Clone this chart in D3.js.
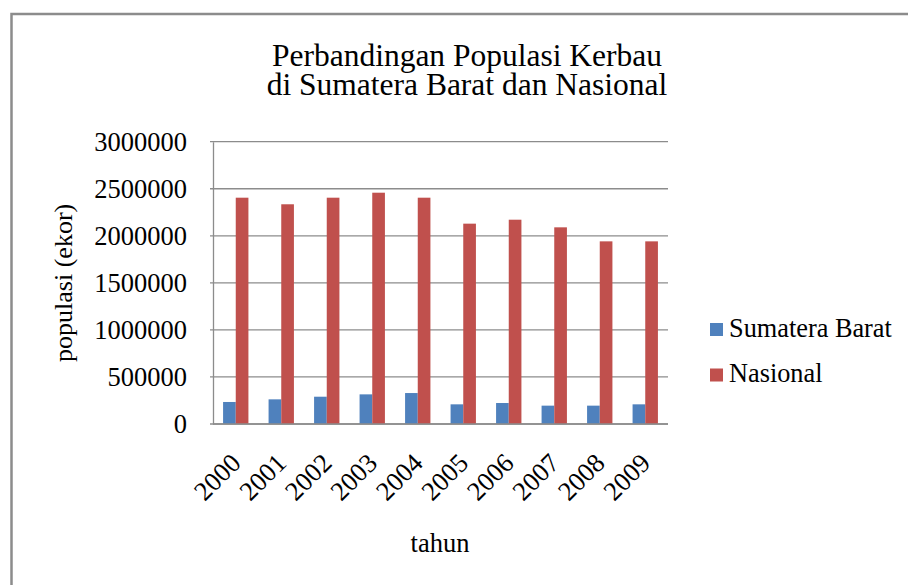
<!DOCTYPE html>
<html>
<head>
<meta charset="utf-8">
<script src="https://cdn.jsdelivr.net/npm/d3@7"></script>
<style>
  body { margin: 0; background: #fff; }
</style>
</head>
<body>
<script>
// data
var tahun = ["2000", "2001", "2002", "2003", "2004", "2005", "2006", "2007", "2008", "2009"];
var sumbar = [234000, 262000, 290000, 315000, 329000, 209000, 223000, 195000, 195000, 209000];
var nasional = [2405000, 2335000, 2405000, 2458000, 2405000, 2129000, 2171000, 2090000, 1941000, 1941000];
var seriesNames = ["Sumatera Barat", "Nasional"];
var seriesColors = ["#4f81bd", "#c0504d"];
var yTicks = [0, 500000, 1000000, 1500000, 2000000, 2500000, 3000000];

var rows = tahun.map(function(t, i) {
  return {tahun: t, values: [sumbar[i], nasional[i]]};
});

var serif = "'Liberation Serif', Tinos, 'Times New Roman', 'DejaVu Serif', serif";
var width = 908, height = 585;
var plot = {left: 213, right: 668, top: 141.7, bottom: 424};

var svg = d3.select("body").append("svg")
    .attr("width", width)
    .attr("height", height)
    .attr("font-family", serif)
    .style("font-family", serif);

// outer frame
svg.append("rect")
    .attr("x", 11.5).attr("y", 14)
    .attr("width", width + 20).attr("height", height + 20)
    .attr("fill", "none")
    .attr("stroke", "#8c8c8c")
    .attr("stroke-width", 2.5);

var x0 = d3.scaleBand()
    .domain(tahun)
    .range([plot.left, plot.right])
    .paddingInner(0.443)
    .paddingOuter(0.2215);

var x1 = d3.scaleBand()
    .domain(d3.range(seriesNames.length))
    .range([0, x0.bandwidth()]);

var y = d3.scaleLinear()
    .domain([0, 3000000])
    .range([plot.bottom, plot.top]);

// gridlines
svg.append("g")
    .selectAll("line")
    .data(yTicks)
    .enter()
    .append("line")
    .attr("x1", plot.left - 3)
    .attr("x2", plot.right)
    .attr("y1", function(d) { return y(d); })
    .attr("y2", function(d) { return y(d); })
    .attr("stroke", "#8c8c8c")
    .attr("stroke-width", 1.3);

// y axis
var yAxis = d3.axisLeft(y)
    .tickValues(yTicks)
    .tickFormat(d3.format("d"))
    .tickSize(0)
    .tickPadding(26);

var yAxisG = svg.append("g")
    .attr("transform", "translate(" + plot.left + ",0)")
    .call(yAxis)
    .attr("font-family", serif);
yAxisG.select(".domain").attr("stroke", "#8c8c8c").attr("stroke-width", 1.3);
yAxisG.selectAll("text")
    .style("font-family", serif)
    .style("font-size", "26.5px")
    .attr("fill", "#000")
    .attr("dy", "0.32em");

// bars
var groups = svg.append("g")
    .selectAll("g")
    .data(rows)
    .enter()
    .append("g")
    .attr("transform", function(d) { return "translate(" + x0(d.tahun) + ",0)"; });

groups.selectAll("rect")
    .data(function(d) { return d.values; })
    .enter()
    .append("rect")
    .attr("x", function(d, i) { return x1(i); })
    .attr("y", function(d) { return y(d); })
    .attr("width", x1.bandwidth())
    .attr("height", function(d) { return y(0) - y(d); })
    .attr("fill", function(d, i) { return seriesColors[i]; });

// bottom axis line
svg.append("line")
    .attr("x1", plot.left).attr("x2", plot.right)
    .attr("y1", y(0)).attr("y2", y(0))
    .attr("stroke", "#8c8c8c")
    .attr("stroke-width", 1.5);

// x labels, rotated
svg.append("g")
    .selectAll("text")
    .data(tahun)
    .enter()
    .append("text")
    .attr("transform", function(d) {
      return "translate(" + (x0(d) + x0.bandwidth() / 2) + ",458) rotate(-45)";
    })
    .attr("text-anchor", "end")
    .attr("dy", "0.35em")
    .style("font-size", "26.5px")
    .text(function(d) { return d; });

// titles
var title = ["Perbandingan Populasi Kerbau", "di Sumatera Barat dan Nasional"];
svg.append("g")
    .selectAll("text")
    .data(title)
    .enter()
    .append("text")
    .attr("x", 467)
    .attr("y", function(d, i) { return 65.5 + i * 29; })
    .attr("text-anchor", "middle")
    .style("font-size", "31.5px")
    .text(function(d) { return d; });

svg.append("text")
    .attr("x", 440)
    .attr("y", 552)
    .attr("text-anchor", "middle")
    .style("font-size", "26.5px")
    .text("tahun");

svg.append("text")
    .attr("transform", "translate(72," + ((plot.top + plot.bottom) / 2) + ") rotate(-90)")
    .attr("text-anchor", "middle")
    .style("font-size", "26px")
    .text("populasi (ekor)");

// legend
var legend = svg.append("g")
    .selectAll("g")
    .data(seriesNames)
    .enter()
    .append("g")
    .attr("transform", function(d, i) { return "translate(710," + (323 + i * 45.5) + ")"; });

legend.append("rect")
    .attr("width", 13)
    .attr("height", 13)
    .attr("fill", function(d, i) { return seriesColors[i]; });

legend.append("text")
    .attr("x", 19)
    .attr("y", 13.5)
    .style("font-size", "26.3px")
    .text(function(d) { return d; });
</script>
</body>
</html>
